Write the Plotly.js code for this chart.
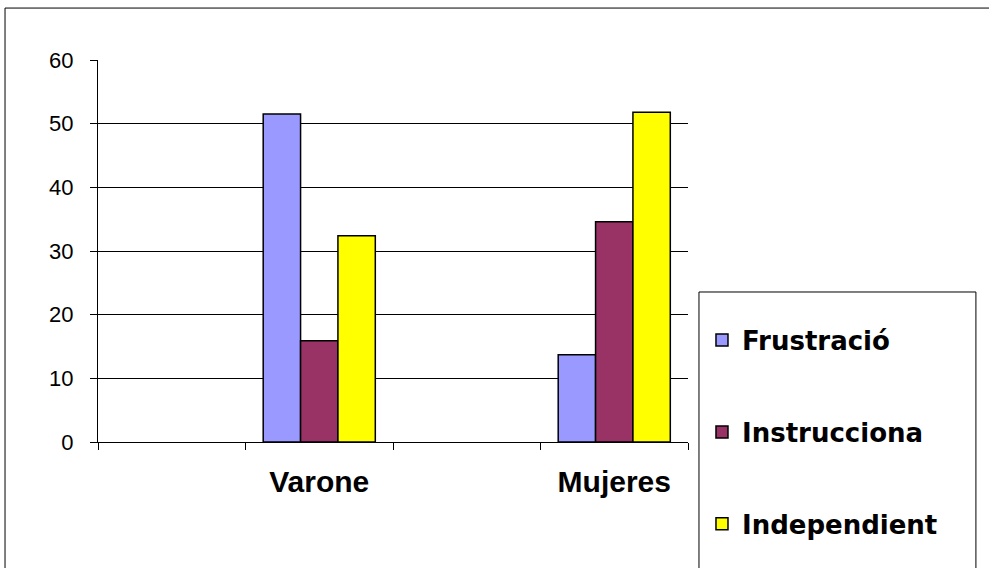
<!DOCTYPE html>
<html>
<head>
<meta charset="utf-8">
<script src="https://cdn.plot.ly/plotly-3.0.1.min.js"></script>
<style>html,body{margin:0;padding:0;background:#fff;}#chart{width:989px;height:568px;}</style>
</head>
<body>
<div id="chart"></div>
<script>
var categories = [" ", "Varone", "  ", "Mujeres"];
var seriesNames = ["Frustració", "Instrucciona", "Independient"];
var frustracion = [null, 51.5, null, 13.7];
var instrucciona = [null, 15.9, null, 34.6];
var independient = [null, 32.4, null, 51.8];
var yTicks = [0, 10, 20, 30, 40, 50, 60];
var colors = ["#9999FF", "#993366", "#FFFF00"];

var values = [frustracion, instrucciona, independient];
var traces = values.map(function (v, i) {
  return {
    type: "bar",
    name: seriesNames[i],
    x: categories,
    y: v,
    legendgroup: "g" + i,
    marker: { color: colors[i], line: { color: "#000", width: 1.5 } },
    hoverinfo: "x+y+name"
  };
});

var layout = {
  width: 989,
  height: 568,
  margin: { l: 98, r: 301, t: 60, b: 126, autoexpand: false },
  paper_bgcolor: "#fff",
  plot_bgcolor: "#fff",
  barmode: "group",
  bargap: 0.24,
  bargroupgap: 0,
  showlegend: true,
  legend: {
    x: 1.0237, xanchor: "left",
    y: 0.328, yanchor: "top",
    traceorder: "grouped",
    tracegroupgap: 55,
    borderwidth: 0,
    bgcolor: "rgba(0,0,0,0)",
    font: { family: "DejaVu Sans", size: 26, color: "#000", weight: "bold" }
  },
  xaxis: {
    type: "category",
    categoryorder: "array",
    categoryarray: categories,
    tickson: "boundaries",
    ticks: "outside",
    ticklen: 7,
    tickcolor: "#000",
    tickwidth: 1,
    showline: true,
    linecolor: "#000",
    linewidth: 1,
    showgrid: false,
    ticklabelstandoff: 13,
    tickfont: { family: "Liberation Sans", size: 30, color: "#000", weight: "bold" },
    fixedrange: true
  },
  yaxis: {
    range: [0, 60],
    tickvals: yTicks,
    ticktext: yTicks.map(String),
    ticks: "outside",
    ticklen: 7,
    tickcolor: "#000",
    showline: true,
    linecolor: "#000",
    linewidth: 1,
    showgrid: true,
    gridcolor: "#000",
    gridwidth: 1,
    zeroline: false,
    ticklabelstandoff: 12,
    tickfont: { family: "Liberation Sans", size: 22, color: "#000" },
    fixedrange: true
  },
  shapes: [
    { type: "rect", xref: "paper", yref: "paper",
      x0: -0.1576, x1: 1.6, y0: -0.36, y1: 1.136,
      line: { color: "#000", width: 1 }, fillcolor: "rgba(0,0,0,0)", layer: "below" },
    { type: "rect", xref: "paper", yref: "paper",
      x0: 1.0186, x1: 1.488, y0: -0.36, y1: 0.3927,
      line: { color: "#000", width: 1 }, fillcolor: "rgba(0,0,0,0)", layer: "above" }
  ]
};

Plotly.newPlot("chart", traces, layout, { displayModeBar: false, staticPlot: true });
</script>
</body>
</html>
